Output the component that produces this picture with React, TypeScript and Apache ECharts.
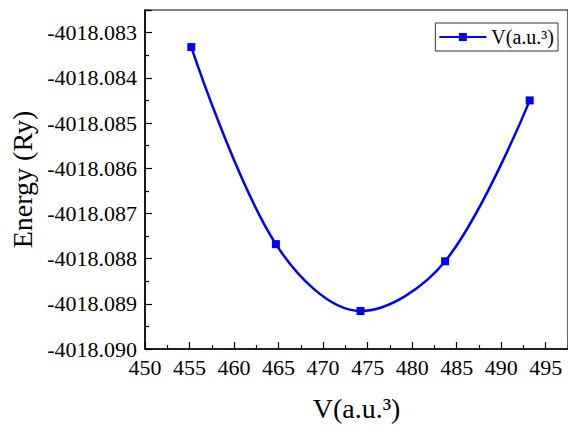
import React, { useEffect, useRef } from "react";
import * as echarts from "echarts";

// Unit-cell volume (a.u.^3) and total energy (Ry)
const volumes: number[] = [455.2, 464.7, 474.2, 483.7, 493.2];
const energies: number[] = [-4018.08332, -4018.08768, -4018.08916, -4018.08806, -4018.0845];

const seriesName = "V(a.u.³)";
const xTitle = "V(a.u.³)";
const yTitle = "Energy (Ry)";

const FONT = "serif";

export default function App() {
  const ref = useRef<HTMLDivElement>(null);

  useEffect(() => {
    if (!ref.current) return;
    const chart = echarts.init(ref.current, null, { renderer: "svg" });
    chart.setOption({
      animation: false,
      backgroundColor: "#ffffff",
      textStyle: { fontFamily: FONT, color: "#000" },
      grid: {
        left: 145,
        top: 10,
        right: -1,
        bottom: 74,
        show: true,
        borderColor: "#000",
        borderWidth: 1.2,
        containLabel: false,
      },
      legend: {
        right: 10,
        top: 23,
        orient: "vertical",
        itemWidth: 47,
        itemHeight: 10,
        padding: [4, 4, 4, 3],
        borderColor: "#333",
        borderWidth: 1,
        borderRadius: 0,
        backgroundColor: "#fff",
        textStyle: { fontFamily: FONT, fontSize: 20, color: "#000" },
        data: [seriesName],
      },
      xAxis: {
        type: "value",
        min: 450,
        max: 497.5,
        interval: 5,
        name: xTitle,
        nameLocation: "middle",
        nameGap: 45,
        nameTextStyle: { fontFamily: FONT, fontSize: 28, color: "#000" },
        axisLine: { show: true, onZero: false, lineStyle: { color: "#000", width: 1.5 } },
        axisTick: { show: true, inside: true, length: 7, lineStyle: { color: "#000", width: 1.2 } },
        minorTick: { show: true, splitNumber: 2, length: 4, lineStyle: { color: "#000", width: 1.2 } },
        axisLabel: {
          fontFamily: FONT,
          fontSize: 22,
          color: "#000",
          margin: 7,
          showMaxLabel: false,
          formatter: (v: number) =>
            Math.abs(v / 5 - Math.round(v / 5)) < 1e-6 ? String(Math.round(v)) : "",
        },
        splitLine: { show: false },
      },
      yAxis: {
        type: "value",
        min: -4018.09,
        max: -4018.0825,
        interval: 0.001,
        name: yTitle,
        nameLocation: "middle",
        nameGap: 107,
        nameRotate: 90,
        nameTextStyle: { fontFamily: FONT, fontSize: 28, color: "#000" },
        axisLine: { show: true, onZero: false, lineStyle: { color: "#000", width: 1.5 } },
        axisTick: { show: true, inside: true, length: 7, lineStyle: { color: "#000", width: 1.2 } },
        minorTick: { show: true, splitNumber: 2, length: 4, lineStyle: { color: "#000", width: 1.2 } },
        axisLabel: {
          fontFamily: FONT,
          fontSize: 22,
          color: "#000",
          margin: 8,
          showMaxLabel: false,
          formatter: (v: number) => v.toFixed(3),
        },
        splitLine: { show: false },
      },
      series: [
        {
          name: seriesName,
          type: "line",
          data: volumes.map((v, i) => [v, energies[i]]),
          smooth: 0.35,
          symbol: "rect",
          symbolSize: 8,
          color: "#0000ff",
          lineStyle: { color: "#0000ff", width: 2.5 },
          itemStyle: { color: "#0000ff" },
        },
      ],
    });
    return () => chart.dispose();
  }, []);

  return (
    <div
      ref={ref}
      style={{ position: "fixed", left: 0, top: 0, width: 568, height: 427, background: "#fff" }}
    />
  );
}
